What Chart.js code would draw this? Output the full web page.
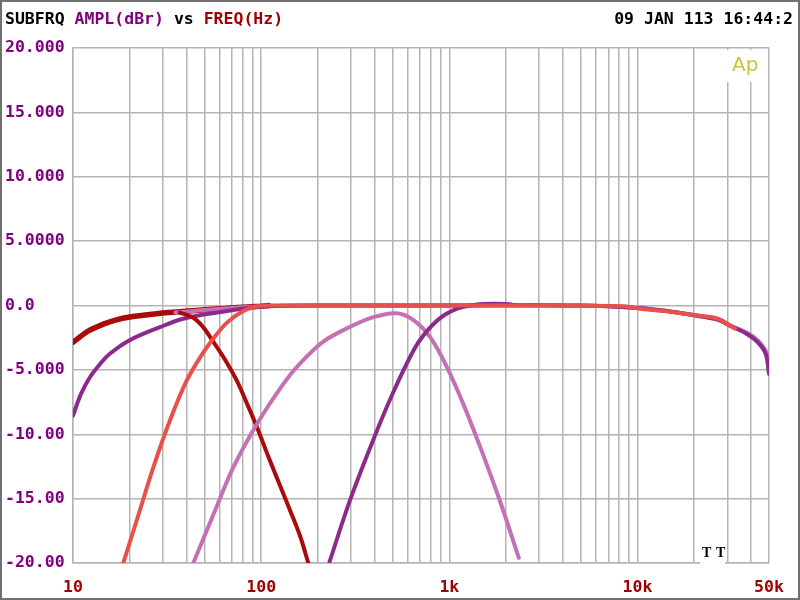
<!DOCTYPE html>
<html>
<head>
<meta charset="utf-8">
<title>SUBFRQ AMPL vs FREQ</title>
<script src="https://cdn.jsdelivr.net/npm/chart.js@4.4.1/dist/chart.umd.min.js"></script>
<style>
  html, body { margin: 0; padding: 0; background: #fff; }
  #chart { display: block; }
</style>
</head>
<body>
<canvas id="chart" width="800" height="600"></canvas>
<script>
// axis ticks
const Y_TICKS = [20, 15, 10, 5, 0, -5, -10, -15, -20];
const Y_LABELS = ['20.000', '15.000', '10.000', '5.0000', '0.0', '-5.000', '-10.00', '-15.00', '-20.00'];
const X_LABEL_AT = [10, 100, 1000, 10000, 50000];
const X_LABELS = ['10', '100', '1k', '10k', '50k'];

// sweeps (Hz / dBr)
const redFullHz = [10, 12, 14.5, 17, 20, 25, 29, 37, 45, 60, 75, 93, 110];
const redFullDb = [-2.85, -2.0, -1.45, -1.12, -0.9, -0.72, -0.6, -0.48, -0.38, -0.26, -0.15, -0.08, 0];

const redLowHz = [37, 43.6, 49.3, 54.7, 63, 74, 84, 95, 111, 137, 161, 178];
const redLowDb = [-0.55, -0.95, -1.7, -2.65, -4.0, -5.8, -7.6, -9.45, -12.0, -15.3, -17.9, -20];

const purpleFullHz = [10, 11, 12.3, 14, 15.7, 20, 29, 38.5, 60, 87, 110, 200, 1000, 5000, 10000, 15600, 20800, 26700, 31400, 38000, 43500, 48000, 50000];
const purpleFullDb = [-8.55, -6.9, -5.57, -4.5, -3.75, -2.7, -1.68, -1.03, -0.52, -0.18, -0.05, 0, 0, 0, -0.2, -0.5, -0.8, -1.1, -1.6, -2.2, -2.85, -3.75, -5.3];

const salmonHz = [18.5, 21.8, 26.7, 32.8, 40.3, 49, 55.5, 65.6, 80, 95, 110, 150, 1000, 8500, 10400, 15600, 20800, 26700, 31400, 33000];
const salmonDb = [-20, -16.7, -12.6, -8.9, -5.8, -3.7, -2.6, -1.35, -0.45, -0.08, 0, 0, 0, -0.05, -0.26, -0.52, -0.78, -1.03, -1.6, -1.8];

const pinkBandHz = [43.6, 55.9, 71, 95, 131, 161, 214, 297, 395, 525, 645, 791, 970, 1190, 1460, 1870, 2340];
const pinkBandDb = [-20, -16.2, -12.6, -9.2, -6.1, -4.5, -2.8, -1.65, -0.9, -0.6, -1.13, -2.46, -4.77, -7.7, -11.0, -15.3, -19.6];

const pinkFullHz = [35, 50, 70, 100, 200, 1000, 5000, 10000, 15600, 20800, 26700, 31400, 38000, 43500, 48000, 50000];
const pinkFullDb = [-0.55, -0.35, -0.2, -0.05, 0, 0, 0, -0.2, -0.5, -0.8, -1.1, -1.6, -2.1, -2.7, -3.5, -4.5];

const purpleHighHz = [231, 297, 395, 505, 645, 730, 890, 1100, 1300, 1500, 2000, 2300];
const purpleHighDb = [-19.9, -15.1, -10.4, -6.7, -3.5, -2.3, -1.0, -0.25, 0, 0.12, 0.12, 0];

const GRID = '#b4b4b4';
const FONT = '"DejaVu Sans Mono", "Liberation Mono", monospace';

// 1-2-3...9 grid lines per decade, up to 50k
const xGrid = [];
for (let d = 10; d <= 10000; d *= 10) {
    for (let m = 1; m <= 9; m++) {
        if (d * m <= 50000) xGrid.push(d * m);
    }
}

function pts(hz, db) {
    return hz.map((f, i) => ({ x: f, y: db[i] }));
}

function trace(hz, db, color, width, order) {
    return {
        data: pts(hz, db),
        borderColor: color,
        borderWidth: width,
        pointRadius: 0,
        fill: false,
        tension: 0.35,
        borderCapStyle: 'round',
        order: order
    };
}

const datasets = [
    trace(salmonHz, salmonDb, '#e8504c', 4, 1),
    trace(purpleHighHz, purpleHighDb, '#8c2a8c', 4, 2),
    trace(pinkBandHz, pinkBandDb, '#c470b4', 4, 3),
    trace(redLowHz, redLowDb, '#aa0a0a', 4, 4),
    trace(purpleFullHz, purpleFullDb, '#8c2a8c', 4, 5),
    trace(pinkFullHz, pinkFullDb, '#c470b4', 4, 6),
    trace(redFullHz, redFullDb, '#aa0a0a', 5.5, 7)
];

// header texts, logo and frame
const decor = {
    id: 'decor',
    afterDraw(chart) {
        const c = chart.ctx;
        c.save();
        c.font = 'bold 16.5px ' + FONT;
        c.textBaseline = 'middle';
        c.textAlign = 'left';
        let x = 5;
        [['SUBFRQ ', '#000'], ['AMPL(dBr)', '#800080'], [' vs ', '#000'], ['FREQ(Hz)', '#a00000']].forEach(([t, col]) => {
            c.fillStyle = col;
            c.fillText(t, x, 20);
            x += c.measureText(t).width;
        });
        c.textAlign = 'right';
        c.fillStyle = '#000';
        c.fillText('09 JAN 113 16:44:2', 793, 20);

        // Ap logo
        c.fillStyle = '#fff';
        c.fillRect(722, 50, 44, 32);
        c.font = '20px "DejaVu Sans", sans-serif';
        c.textAlign = 'left';
        c.fillStyle = '#c8c438';
        c.fillText('Ap', 732, 66);

        // TT marks
        c.fillStyle = '#fff';
        c.fillRect(700, 541, 25, 24);
        c.font = 'bold 14px "Liberation Serif", serif';
        c.fillStyle = '#000';
        c.fillText('T', 702, 553);
        c.fillText('T', 716, 553);

        c.strokeStyle = '#707070';
        c.lineWidth = 2;
        c.strokeRect(1, 1, 798, 598);
        c.restore();
    }
};

new Chart(document.getElementById('chart'), {
    type: 'line',
    data: { datasets },
    plugins: [decor],
    options: {
        responsive: false,
        animation: false,
        layout: { padding: { left: 5, top: 48, right: 31, bottom: 0 } },
        plugins: { legend: { display: false }, tooltip: { enabled: false } },
        scales: {
            x: {
                type: 'logarithmic',
                min: 10,
                max: 50000,
                afterBuildTicks: s => { s.ticks = xGrid.map(v => ({ value: v })); },
                afterFit: s => { s.height = 37; },
                grid: { color: GRID, lineWidth: 1.5, drawTicks: false },
                border: { color: GRID, width: 1.5 },
                ticks: {
                    autoSkip: false,
                    maxRotation: 0,
                    padding: 15,
                    color: '#a00000',
                    font: { family: FONT, size: 16.5, weight: 'bold' },
                    callback: v => {
                        const i = X_LABEL_AT.indexOf(v);
                        return i < 0 ? '' : X_LABELS[i];
                    }
                }
            },
            y: {
                min: -20,
                max: 20,
                afterBuildTicks: s => { s.ticks = Y_TICKS.map(v => ({ value: v })); },
                afterFit: s => { s.width = 68; },
                grid: { color: GRID, lineWidth: 1.5, drawTicks: false },
                border: { color: GRID, width: 1.5 },
                ticks: {
                    crossAlign: 'far',
                    padding: 0,
                    color: '#800080',
                    font: { family: FONT, size: 16.5, weight: 'bold' },
                    callback: v => Y_LABELS[Y_TICKS.indexOf(v)]
                }
            }
        }
    }
});
</script>
</body>
</html>
